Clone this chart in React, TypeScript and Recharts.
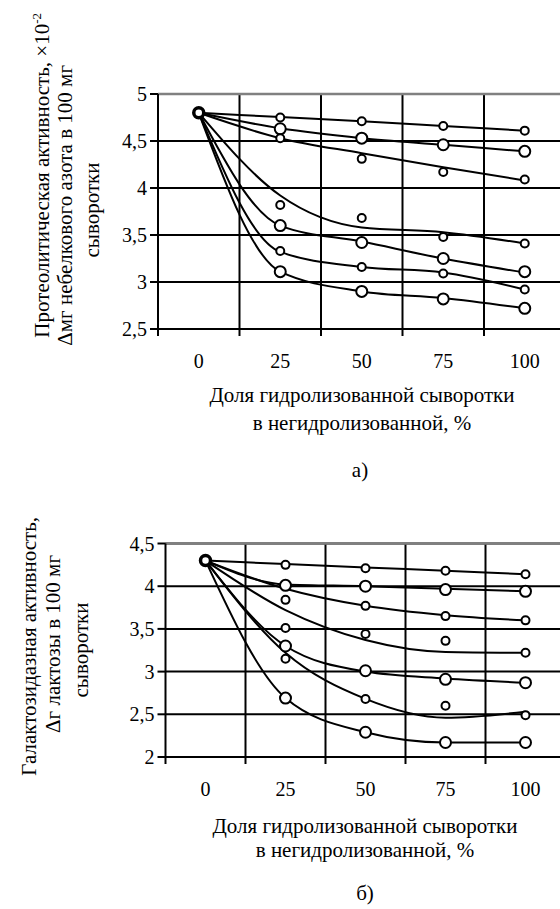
import React from 'react';
import { ComposedChart, Line, XAxis, YAxis, CartesianGrid, ReferenceLine } from 'recharts';

const FONT = '"Liberation Serif", "Times New Roman", serif';

// доля гидролизованной сыворотки, %
const shares = [0, 25, 50, 75, 100];
const xTicks = [-12.5, 0, 12.5, 25, 37.5, 50, 62.5, 75, 87.5, 100];
const xBorders = [12.5, 37.5, 62.5, 87.5];

// а) протеолитическая активность
const protTicks = [2.5, 3, 3.5, 4, 4.5, 5];
const protStart = 4.8;
const protFit1 = [4.8, 4.755, 4.71, 4.66, 4.61];
const protFit2 = [4.8, 4.635, 4.53, 4.46, 4.39];
const protFit3 = [4.8, 4.53, 4.37, 4.22, 4.08];
const protFit4 = [4.8, 3.92, 3.58, 3.53, 3.41];
const protFit5 = [4.8, 3.6, 3.43, 3.25, 3.1];
const protFit6 = [4.8, 3.32, 3.16, 3.1, 2.92];
const protFit7 = [4.8, 3.11, 2.9, 2.83, 2.72];
// measured points at 25, 50, 75, 100
const protObs1 = [4.75, 4.71, 4.66, 4.61];
const protObs2 = [4.63, 4.53, 4.46, 4.39];
const protObs3 = [4.53, 4.31, 4.17, 4.09];
const protObs4 = [3.82, 3.68, 3.48, 3.41];
const protObs5 = [3.6, 3.42, 3.25, 3.11];
const protObs6 = [3.33, 3.16, 3.09, 2.92];
const protObs7 = [3.11, 2.9, 2.82, 2.72];

// б) галактозидазная активность
const galTicks = [2, 2.5, 3, 3.5, 4, 4.5];
const galStart = 4.3;
const galFit1 = [4.3, 4.26, 4.22, 4.18, 4.14];
const galFit2 = [4.3, 4.02, 4.0, 3.97, 3.94];
const galFit3 = [4.3, 3.97, 3.77, 3.66, 3.6];
const galFit4 = [4.3, 3.72, 3.37, 3.23, 3.22];
const galFit5 = [4.3, 3.3, 3.0, 2.92, 2.87];
const galFit6 = [4.3, 3.22, 2.68, 2.46, 2.53];
const galFit7 = [4.3, 2.69, 2.29, 2.17, 2.17];
const galObs1 = [4.25, 4.21, 4.18, 4.14];
const galObs2 = [4.01, 4.0, 3.96, 3.94];
const galObs3 = [3.84, 3.77, 3.65, 3.6];
const galObs4 = [3.51, 3.44, 3.36, 3.22];
const galObs5 = [3.3, 3.01, 2.91, 2.87];
const galObs6 = [3.15, 2.68, 2.6, 2.49];
const galObs7 = [2.69, 2.29, 2.17, 2.17];

const bigMarkers = [1, 4, 6];

const buildRows = (fits: number[][], obs: number[][], start: number) =>
  shares.map((x, i) => {
    const row: Record<string, number | null> = { x, s: i === 0 ? start : null };
    fits.forEach((f, k) => { row['f' + k] = f[i]; });
    obs.forEach((o, k) => { row['o' + k] = i === 0 ? null : o[i - 1]; });
    return row;
  });

const protRows = buildRows(
  [protFit1, protFit2, protFit3, protFit4, protFit5, protFit6, protFit7],
  [protObs1, protObs2, protObs3, protObs4, protObs5, protObs6, protObs7],
  protStart
);
const galRows = buildRows(
  [galFit1, galFit2, galFit3, galFit4, galFit5, galFit6, galFit7],
  [galObs1, galObs2, galObs3, galObs4, galObs5, galObs6, galObs7],
  galStart
);

const XTick = (props: any) => {
  const { x, y, payload } = props;
  const v = payload.value;
  if (v % 25 === 0) {
    return (
      <text x={x} y={y + 39} textAnchor="middle" fontFamily={FONT} fontSize={20} fill="#000">
        {v}
      </text>
    );
  }
  return <line x1={x} y1={y} x2={x} y2={y + 7} stroke="#000" strokeWidth={2} />;
};

interface PanelProps {
  rows: Record<string, number | null>[];
  domain: [number, number];
  ticks: number[];
  height: number;
  margin: { top: number; right: number; bottom: number; left: number };
}

const Panel: React.FC<PanelProps> = ({ rows, domain, ticks, height, margin }) => (
  <ComposedChart width={570} height={height} data={rows} margin={margin}>
    <CartesianGrid vertical={false} stroke="#000" strokeWidth={2} />
    {xBorders.map(b => (
      <ReferenceLine key={b} x={b} stroke="#000" strokeWidth={2} />
    ))}
    <ReferenceLine y={domain[1]} stroke="#808080" strokeWidth={2.5} />
    <XAxis
      dataKey="x"
      type="number"
      domain={[-12.5, 112.5]}
      ticks={xTicks}
      interval={0}
      tickSize={0}
      tickMargin={0}
      tickLine={false}
      tick={<XTick />}
      axisLine={{ stroke: '#000', strokeWidth: 2 }}
      height={30}
    />
    <YAxis
      type="number"
      domain={domain}
      ticks={ticks}
      interval={0}
      width={60}
      tickSize={8}
      tickMargin={3}
      tickLine={{ stroke: '#000', strokeWidth: 2 }}
      axisLine={{ stroke: '#000', strokeWidth: 2 }}
      tick={{ fill: '#000', fontSize: 20, fontFamily: FONT }}
      tickFormatter={(v: number) => String(v).replace('.', ',')}
    />
    {[0, 1, 2, 3, 4, 5, 6].map(k => (
      <Line
        key={'f' + k}
        dataKey={'f' + k}
        type="monotone"
        stroke="#000"
        strokeWidth={2}
        dot={false}
        activeDot={false}
        isAnimationActive={false}
      />
    ))}
    {[0, 1, 2, 3, 4, 5, 6].map(k => (
      <Line
        key={'o' + k}
        dataKey={'o' + k}
        stroke="none"
        dot={{ r: bigMarkers.includes(k) ? 5.5 : 4, fill: '#fff', stroke: '#000', strokeWidth: 2 }}
        activeDot={false}
        isAnimationActive={false}
      />
    ))}
    <Line
      dataKey="s"
      stroke="none"
      dot={{ r: 5, fill: '#fff', stroke: '#000', strokeWidth: 3.5 }}
      activeDot={false}
      isAnimationActive={false}
    />
  </ComposedChart>
);

const txt = { fontFamily: FONT, fontSize: 21, fill: '#000' };

const Titles = () => (
  <svg width={560} height={909} style={{ position: 'absolute', left: 0, top: 0, pointerEvents: 'none' }}>
    {/* а) */}
    <text {...txt} transform="translate(49,13) rotate(-90)" textAnchor="end">
      Протеолитическая активность, ×10<tspan dy={-8} fontSize={13}>-2</tspan>
    </text>
    <text {...txt} transform="translate(72,65) rotate(-90)" textAnchor="end">
      Δмг небелкового азота в 100 мг
    </text>
    <text {...txt} transform="translate(99,210) rotate(-90)" textAnchor="middle">
      сыворотки
    </text>
    <text {...txt} x={362} y={402} textAnchor="middle">Доля гидролизованной сыворотки</text>
    <text {...txt} x={362} y={430} textAnchor="middle">в негидролизованной, %</text>
    <text {...txt} x={360} y={477} textAnchor="middle">а)</text>

    {/* б) */}
    <text {...txt} transform="translate(36,517) rotate(-90)" textAnchor="end">
      Галактозидазная активность,
    </text>
    <text {...txt} transform="translate(60,555) rotate(-90)" textAnchor="end">
      Δг лактозы в 100 мг
    </text>
    <text {...txt} transform="translate(88,650) rotate(-90)" textAnchor="middle">
      сыворотки
    </text>
    <text {...txt} x={365} y={833} textAnchor="middle">Доля гидролизованной сыворотки</text>
    <text {...txt} x={365} y={857} textAnchor="middle">в негидролизованной, %</text>
    <text {...txt} x={365} y={900} textAnchor="middle">б)</text>
  </svg>
);

export default function App() {
  return (
    <div
      style={{
        position: 'absolute',
        left: 0,
        top: 0,
        width: 560,
        height: 909,
        overflow: 'hidden',
        background: '#fff',
      }}
    >
      <div style={{ position: 'absolute', left: 0, top: 0 }}>
        <Panel
          rows={protRows}
          domain={[2.5, 5]}
          ticks={protTicks}
          height={440}
          margin={{ top: 94, right: 4.5, bottom: 81, left: 98 }}
        />
      </div>
      <div style={{ position: 'absolute', left: 0, top: 440 }}>
        <Panel
          rows={galRows}
          domain={[2, 4.5]}
          ticks={galTicks}
          height={469}
          margin={{ top: 103.5, right: 4.5, bottom: 122, left: 105.5 }}
        />
      </div>
      <Titles />
    </div>
  );
}
